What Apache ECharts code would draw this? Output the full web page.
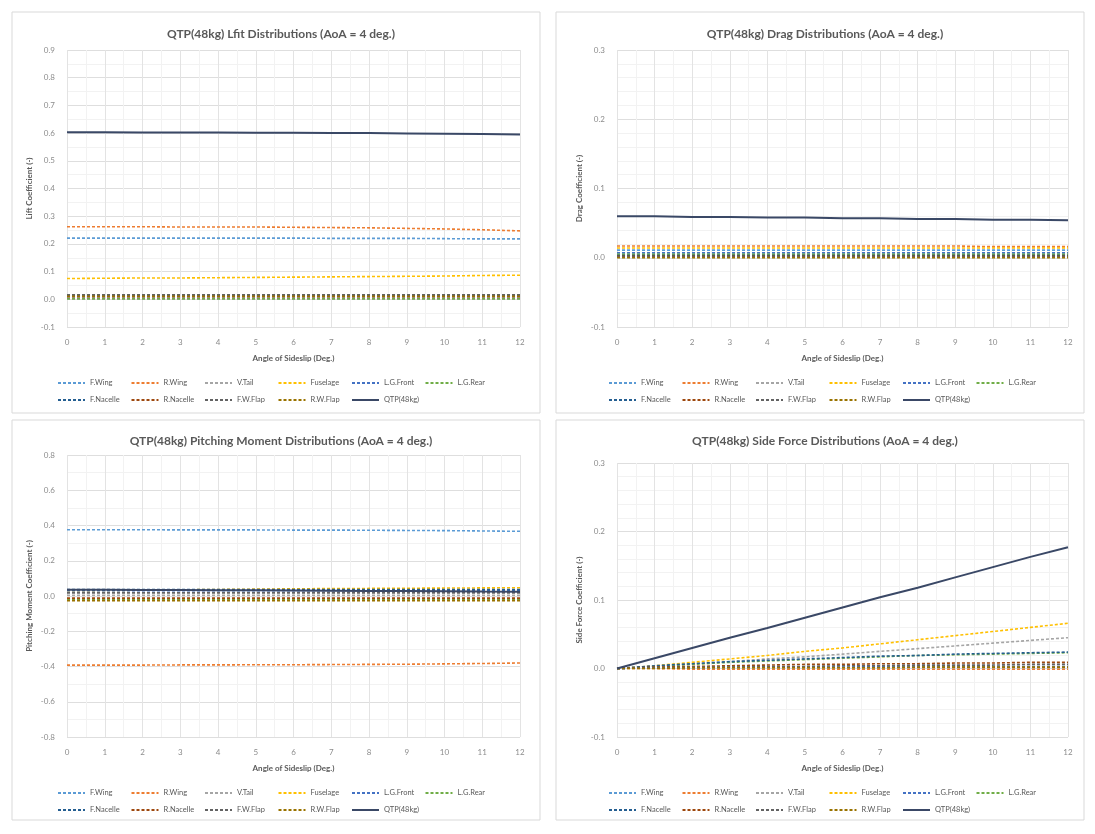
<!DOCTYPE html>
<html><head><meta charset="utf-8">
<script src="https://cdn.jsdelivr.net/npm/echarts@6/dist/echarts.min.js"></script>
<style>html,body{margin:0;padding:0;background:#fff}#c{width:1095px;height:834px}</style>
</head><body><div id="c"></div>
<script>
const xValues = [0,1,2,3,4,5,6,7,8,9,10,11,12];
const seriesNames = ['F.Wing','R.Wing','V.Tail','Fuselage','L.G.Front','L.G.Rear','F.Nacelle','R.Nacelle','F.W.Flap','R.W.Flap','QTP(48kg)'];
const colors = ['#5B9BD5','#ED7D31','#A5A5A5','#FFC000','#4472C4','#70AD47','#255E91','#9E480E','#636363','#997300','#3A4866'];

// Lift coefficient
const liftFWing    = [0.221,0.221,0.221,0.221,0.221,0.221,0.221,0.220,0.220,0.220,0.219,0.218,0.218];
const liftRWing    = [0.262,0.262,0.262,0.261,0.261,0.261,0.260,0.259,0.258,0.256,0.254,0.251,0.247];
const liftVTail    = [0.000,0.000,0.000,0.000,0.000,0.000,0.000,0.000,0.000,0.000,0.000,0.000,0.000];
const liftFuselage = [0.075,0.076,0.077,0.077,0.078,0.079,0.080,0.081,0.082,0.083,0.084,0.086,0.087];
const liftLGFront  = [0.004,0.004,0.004,0.004,0.004,0.004,0.004,0.004,0.004,0.004,0.004,0.004,0.004];
const liftLGRear   = [0.002,0.002,0.002,0.002,0.002,0.002,0.002,0.002,0.002,0.002,0.002,0.002,0.002];
const liftFNacelle = [0.013,0.013,0.013,0.013,0.013,0.013,0.013,0.013,0.013,0.013,0.013,0.013,0.013];
const liftRNacelle = [0.009,0.009,0.009,0.009,0.009,0.009,0.009,0.009,0.009,0.009,0.009,0.009,0.009];
const liftFWFlap   = [0.016,0.016,0.016,0.016,0.016,0.016,0.016,0.016,0.016,0.016,0.016,0.016,0.016];
const liftRWFlap   = [0.011,0.011,0.011,0.011,0.011,0.011,0.011,0.011,0.011,0.011,0.011,0.011,0.011];
const liftQTP      = [0.603,0.603,0.602,0.602,0.602,0.601,0.601,0.600,0.600,0.599,0.598,0.597,0.595];

// Drag coefficient
const dragFWing    = [0.011,0.011,0.011,0.011,0.011,0.011,0.011,0.011,0.011,0.011,0.011,0.011,0.011];
const dragRWing    = [0.017,0.017,0.017,0.017,0.017,0.017,0.017,0.017,0.017,0.017,0.016,0.016,0.016];
const dragVTail    = [0.004,0.004,0.004,0.004,0.004,0.004,0.004,0.004,0.004,0.004,0.004,0.004,0.004];
const dragFuselage = [0.014,0.014,0.014,0.014,0.014,0.014,0.014,0.014,0.014,0.014,0.014,0.014,0.014];
const dragLGFront  = [0.007,0.007,0.007,0.007,0.007,0.007,0.007,0.007,0.007,0.007,0.007,0.007,0.007];
const dragLGRear   = [0.005,0.005,0.005,0.005,0.005,0.005,0.005,0.005,0.005,0.005,0.005,0.005,0.005];
const dragFNacelle = [0.003,0.003,0.003,0.003,0.003,0.003,0.003,0.003,0.003,0.003,0.003,0.003,0.003];
const dragRNacelle = [0.002,0.002,0.002,0.002,0.002,0.002,0.002,0.002,0.002,0.002,0.002,0.002,0.002];
const dragFWFlap   = [0.001,0.001,0.001,0.001,0.001,0.001,0.001,0.001,0.001,0.001,0.001,0.001,0.001];
const dragRWFlap   = [0.000,0.000,0.000,0.000,0.000,0.000,0.000,0.000,0.000,0.000,0.000,0.000,0.000];
const dragQTP      = [0.060,0.060,0.059,0.059,0.058,0.058,0.057,0.057,0.056,0.056,0.055,0.055,0.054];

// Pitching moment coefficient
const pitchFWing    = [0.376,0.376,0.376,0.375,0.375,0.375,0.374,0.374,0.373,0.372,0.371,0.369,0.367];
const pitchRWing    = [-0.392,-0.392,-0.392,-0.391,-0.391,-0.390,-0.390,-0.389,-0.388,-0.387,-0.385,-0.383,-0.380];
const pitchVTail    = [0.004,0.004,0.004,0.004,0.004,0.004,0.004,0.004,0.004,0.004,0.004,0.004,0.004];
const pitchFuselage = [0.030,0.031,0.033,0.035,0.037,0.039,0.041,0.042,0.043,0.044,0.045,0.046,0.047];
const pitchLGFront  = [0.030,0.030,0.030,0.030,0.030,0.030,0.030,0.030,0.030,0.030,0.030,0.030,0.030];
const pitchLGRear   = [-0.020,-0.020,-0.020,-0.020,-0.020,-0.020,-0.020,-0.020,-0.020,-0.020,-0.020,-0.020,-0.020];
const pitchFNacelle = [0.036,0.036,0.036,0.036,0.036,0.036,0.036,0.036,0.036,0.036,0.036,0.036,0.036];
const pitchRNacelle = [-0.012,-0.012,-0.012,-0.012,-0.012,-0.012,-0.012,-0.012,-0.012,-0.012,-0.012,-0.012,-0.012];
const pitchFWFlap   = [0.018,0.018,0.018,0.018,0.018,0.018,0.018,0.018,0.018,0.018,0.018,0.018,0.018];
const pitchRWFlap   = [-0.026,-0.026,-0.026,-0.026,-0.026,-0.026,-0.026,-0.026,-0.026,-0.026,-0.026,-0.026,-0.026];
const pitchQTP      = [0.035,0.035,0.034,0.034,0.033,0.032,0.031,0.030,0.029,0.028,0.027,0.025,0.024];

// Side force coefficient
const sideFWing    = [0.000,0.001,0.001,0.001,0.001,0.001,0.001,0.001,0.001,0.001,0.001,0.001,0.001];
const sideRWing    = [0.000,0.000,-0.001,-0.001,-0.001,-0.001,-0.001,-0.001,-0.001,-0.001,-0.001,-0.001,-0.001];
const sideVTail    = [0.000,0.003,0.007,0.010,0.014,0.017,0.021,0.025,0.029,0.033,0.037,0.041,0.045];
const sideFuselage = [0.000,0.004,0.009,0.014,0.019,0.025,0.030,0.036,0.042,0.048,0.054,0.060,0.066];
const sideLGFront  = [0.000,0.001,0.001,0.002,0.002,0.002,0.002,0.003,0.003,0.003,0.003,0.003,0.003];
const sideLGRear   = [0.000,0.003,0.006,0.009,0.011,0.013,0.015,0.017,0.019,0.020,0.021,0.022,0.023];
const sideFNacelle = [0.000,0.004,0.007,0.010,0.012,0.014,0.016,0.018,0.019,0.021,0.022,0.023,0.024];
const sideRNacelle = [0.000,0.002,0.003,0.004,0.005,0.006,0.006,0.007,0.007,0.008,0.008,0.009,0.009];
const sideFWFlap   = [0.000,0.001,0.002,0.002,0.003,0.003,0.004,0.004,0.005,0.005,0.005,0.006,0.006];
const sideRWFlap   = [0.000,0.000,0.001,0.001,0.001,0.001,0.001,0.001,0.002,0.002,0.002,0.002,0.002];
const sideQTP      = [0.000,0.015,0.030,0.045,0.059,0.074,0.089,0.104,0.118,0.133,0.148,0.163,0.177];

const panels = [
  {title:'QTP(48kg) Lfit Distributions (AoA = 4 deg.)', yName:'Lift Coefficient (-)', min:-0.1, max:0.9, interval:0.1, minor:2,
   data:[liftFWing,liftRWing,liftVTail,liftFuselage,liftLGFront,liftLGRear,liftFNacelle,liftRNacelle,liftFWFlap,liftRWFlap,liftQTP]},
  {title:'QTP(48kg) Drag Distributions (AoA = 4 deg.)', yName:'Drag Coefficient (-)', min:-0.1, max:0.3, interval:0.1, minor:5,
   data:[dragFWing,dragRWing,dragVTail,dragFuselage,dragLGFront,dragLGRear,dragFNacelle,dragRNacelle,dragFWFlap,dragRWFlap,dragQTP]},
  {title:'QTP(48kg) Pitching Moment Distributions (AoA = 4 deg.)', yName:'Pitching Moment Coefficient (-)', min:-0.8, max:0.8, interval:0.2, minor:2,
   data:[pitchFWing,pitchRWing,pitchVTail,pitchFuselage,pitchLGFront,pitchLGRear,pitchFNacelle,pitchRNacelle,pitchFWFlap,pitchRWFlap,pitchQTP]},
  {title:'QTP(48kg) Side Force Distributions (AoA = 4 deg.)', yName:'Side Force Coefficient (-)', min:-0.1, max:0.3, interval:0.1, minor:5,
   data:[sideFWing,sideRWing,sideVTail,sideFuselage,sideLGFront,sideLGRear,sideFNacelle,sideRNacelle,sideFWFlap,sideRWFlap,sideQTP]}
];

const layout = [
  {box:[12,12,528,401], grid:{left:67,top:50,width:453,height:277}, titleX:276, titleY:23, legX:57, legY1:379, legY2:396},
  {box:[556,12,528,401], grid:{left:617,top:50,width:451,height:277}, titleX:820, titleY:23, legX:608, legY1:379, legY2:396},
  {box:[12,420,528,400], grid:{left:67,top:455,width:453,height:282}, titleX:276, titleY:430, legX:57, legY1:789, legY2:806},
  {box:[556,420,528,400], grid:{left:617,top:463,width:451,height:274}, titleX:820, titleY:430, legX:608, legY1:789, legY2:806}
];
</script>
<script>
const FONT = 'Lato, "Open Sans", sans-serif';
const grey = '#595959';
const option = {backgroundColor:'#fff', animation:false, title:[], grid:[], xAxis:[], yAxis:[], legend:[], series:[], graphic:[]};
panels.forEach((p,i)=>{
  const L = layout[i];
  option.graphic.push({type:'rect', shape:{x:L.box[0],y:L.box[1],width:L.box[2],height:L.box[3]}, style:{fill:'#fff',stroke:'#d9d9d9',lineWidth:1}, z:-10});
  option.title.push({text:p.title, left:L.titleX, top:L.titleY, textAlign:'center', textStyle:{fontFamily:FONT,fontSize:12,fontWeight:'bold',color:grey}});
  option.grid.push(Object.assign({containLabel:false}, L.grid));
  option.xAxis.push({type:'value', gridIndex:i, min:0, max:12, interval:1,
    name:'Angle of Sideslip (Deg.)', nameLocation:'middle', nameGap:27,
    nameTextStyle:{fontFamily:FONT,fontSize:8,fontWeight:'bold',color:grey},
    axisLine:{show:false}, axisTick:{show:false},
    axisLabel:{fontFamily:FONT,fontSize:8,color:'#8c8c8c',margin:11},
    splitLine:{show:true,lineStyle:{color:'#e3e3e3',width:1}},
    minorTick:{show:false,splitNumber:2}, minorSplitLine:{show:true,lineStyle:{color:'#f2f2f2',width:1}}});
  option.yAxis.push({type:'value', gridIndex:i, min:p.min, max:p.max, interval:p.interval,
    name:p.yName, nameLocation:'middle', nameGap:34, nameRotate:90,
    nameTextStyle:{fontFamily:FONT,fontSize:8,fontWeight:'bold',color:grey},
    axisLine:{show:false}, axisTick:{show:false},
    axisLabel:{fontFamily:FONT,fontSize:8,color:'#8c8c8c',margin:12,formatter:v=>v.toFixed(1)},
    splitLine:{show:true,lineStyle:{color:'#dedede',width:1}},
    minorTick:{show:false,splitNumber:p.minor}, minorSplitLine:{show:true,lineStyle:{color:'#f2f2f2',width:1}}});
  seriesNames.forEach((n,k)=>{
    const isTotal = k===10;
    option.series.push({type:'line', name:n, xAxisIndex:i, yAxisIndex:i, symbol:'none',
      data:xValues.map((x,j)=>[x,p.data[k][j]]),
      lineStyle:{color:colors[k], width:isTotal?2:1.6, type:isTotal?'solid':[3,2]},
      itemStyle:{color:colors[k]}, z:isTotal?5:3});
    const row = k<6 ? 0 : 1, col = k<6 ? k : k-6;
    option.legend.push({orient:'horizontal', left:L.legX + col*73.5, top: row===0 ? L.legY1 : L.legY2,
      itemWidth:27, itemHeight:8, padding:0, data:[n],
      itemStyle:{opacity:0},
      textStyle:{fontFamily:FONT,fontSize:7.5,color:grey}});
  });
});
const chart = echarts.init(document.getElementById('c'), null, {renderer:'canvas'});
chart.setOption(option);
</script>
</body></html>
